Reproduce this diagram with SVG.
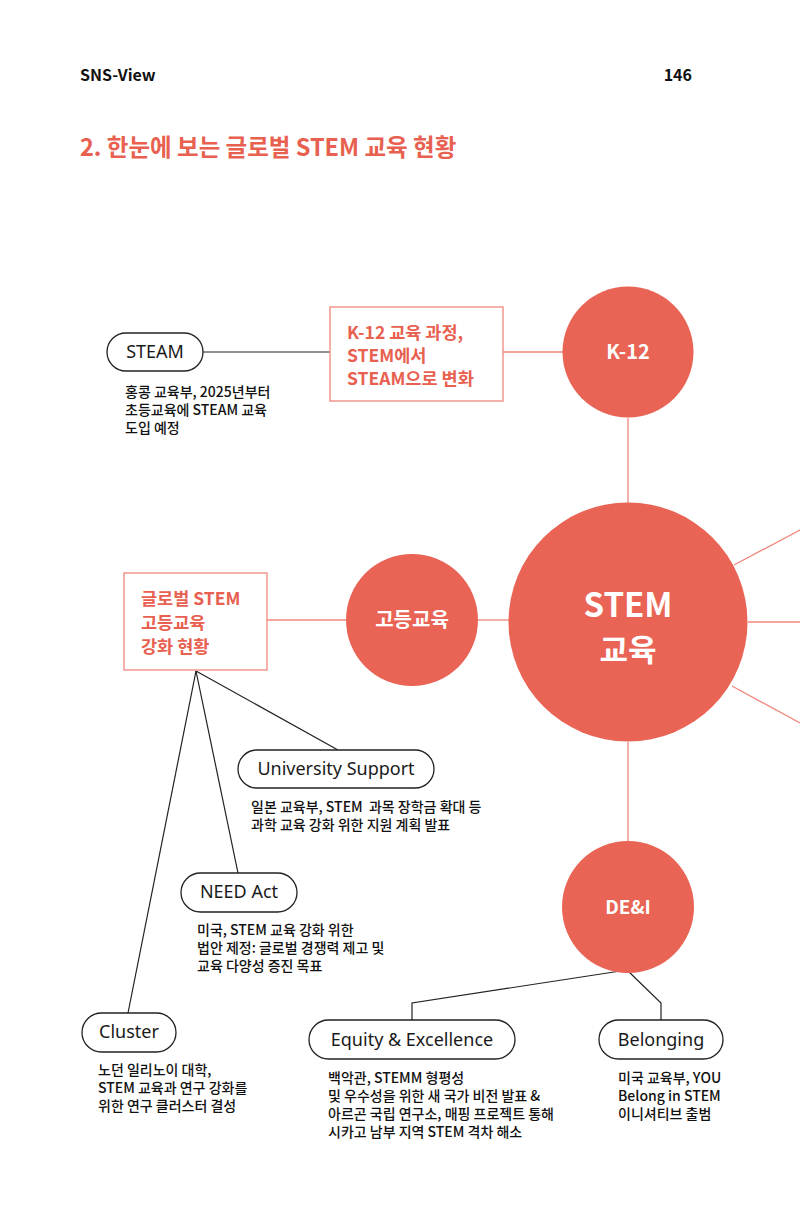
<svg xmlns="http://www.w3.org/2000/svg" width="800" height="1216" viewBox="0 0 800 1216">
<style>
.bg{fill:#ffffff}
.hub{fill:#E96455}
.box{fill:#ffffff;stroke:#F0877B;stroke-width:1.3}
.pill{fill:#ffffff;stroke:#222222;stroke-width:1.3}
.rl{stroke:#F0877B;stroke-width:1.3;fill:none}
.bl{stroke:#222222;stroke-width:1.2;fill:none}
.hubt{font-family:"Noto Sans CJK KR","Noto Sans",sans-serif;font-weight:bold;fill:#ffffff;text-anchor:middle}
.boxt{font-family:"Noto Sans CJK KR","Noto Sans",sans-serif;font-weight:bold;fill:#E8604F;font-size:17.5px}
.pillt{font-family:"Noto Sans","Noto Sans CJK KR",sans-serif;fill:#1a1a1a;font-size:18px;text-anchor:middle}
.desc{font-family:"Noto Sans CJK KR","Noto Sans",sans-serif;font-weight:500;fill:#111111;font-size:14px;white-space:pre}
.hdr{font-family:"Noto Sans CJK KR","Noto Sans",sans-serif;font-weight:bold;fill:#111111;font-size:16px}
.title{font-family:"Noto Sans CJK KR","Noto Sans",sans-serif;font-weight:bold;fill:#E8604F;font-size:23.5px}
</style>
<rect class="bg" x="0" y="0" width="800" height="1216"/>
<g id="header">
<text class="hdr" x="80" y="81">SNS-View</text>
<text class="hdr" x="692" y="81" text-anchor="end">146</text>
<text class="title" x="80" y="156">2. 한눈에 보는 글로벌 STEM 교육 현황</text>
</g>
<g id="connectors">
<line class="rl" x1="628" y1="418" x2="628" y2="503"/>
<line class="rl" x1="628" y1="742" x2="628" y2="841"/>
<line class="rl" x1="734" y1="565" x2="800" y2="530"/>
<line class="rl" x1="748" y1="622" x2="800" y2="622"/>
<line class="rl" x1="732" y1="686" x2="800" y2="723"/>
<line class="rl" x1="503" y1="352" x2="563" y2="352"/>
<line class="rl" x1="267" y1="620" x2="346" y2="620"/>
<line class="rl" x1="478" y1="620" x2="509" y2="620"/>
<line class="bl" x1="203" y1="352" x2="330" y2="352"/>
<line class="bl" x1="196" y1="671" x2="338" y2="750"/>
<line class="bl" x1="196" y1="671" x2="238" y2="873"/>
<line class="bl" x1="196" y1="671" x2="128" y2="1013"/>
<polyline class="bl" points="627,970 412,1003 412,1020"/>
<polyline class="bl" points="627,970 661,1003 661,1020"/>
</g>
<g id="stem">
<circle class="hub" cx="628" cy="622" r="119.5"/>
<text class="hubt" x="628" y="617" font-size="33">STEM</text>
<text class="hubt" x="628" y="661" font-size="31">교육</text>
</g>
<g id="k12">
<circle class="hub" cx="628" cy="352" r="65.5"/>
<text class="hubt" x="628" y="359" font-size="20">K-12</text>
</g>
<g id="higher-ed">
<circle class="hub" cx="412" cy="620" r="66"/>
<text class="hubt" x="412" y="627" font-size="20">고등교육</text>
</g>
<g id="dei">
<circle class="hub" cx="628" cy="907" r="66"/>
<text class="hubt" x="628" y="914" font-size="19">DE&amp;I</text>
</g>
<g id="k12-box">
<rect class="box" x="330" y="307" width="173" height="94"/>
<text class="boxt" x="347" y="339">K-12 교육 과정,</text>
<text class="boxt" x="347" y="362">STEM에서</text>
<text class="boxt" x="347" y="385">STEAM으로 변화</text>
</g>
<g id="higher-box">
<rect class="box" x="124" y="573" width="143" height="97"/>
<text class="boxt" x="141" y="605">글로벌 STEM</text>
<text class="boxt" x="141" y="629">고등교육</text>
<text class="boxt" x="141" y="653">강화 현황</text>
</g>
<g id="steam">
<rect class="pill" x="107" y="333" width="96" height="38" rx="19"/>
<text class="pillt" x="155" y="358">STEAM</text>
<text class="desc" x="125" y="397">홍콩 교육부, 2025년부터</text>
<text class="desc" x="125" y="415">초등교육에 STEAM 교육</text>
<text class="desc" x="125" y="433">도입 예정</text>
</g>
<g id="university-support">
<rect class="pill" x="238" y="750" width="196" height="38" rx="19"/>
<text class="pillt" x="336" y="775">University Support</text>
<text class="desc" x="251" y="812">일본 교육부, STEM  과목 장학금 확대 등</text>
<text class="desc" x="251" y="830">과학 교육 강화 위한 지원 계획 발표</text>
</g>
<g id="need-act">
<rect class="pill" x="181" y="873" width="116" height="39" rx="19.5"/>
<text class="pillt" x="239" y="898">NEED Act</text>
<text class="desc" x="197" y="935">미국, STEM 교육 강화 위한</text>
<text class="desc" x="197" y="953">법안 제정: 글로벌 경쟁력 제고 및</text>
<text class="desc" x="197" y="971">교육 다양성 증진 목표</text>
</g>
<g id="cluster">
<rect class="pill" x="82" y="1013" width="94" height="39" rx="19.5"/>
<text class="pillt" x="129" y="1038">Cluster</text>
<text class="desc" x="98" y="1075">노던 일리노이 대학,</text>
<text class="desc" x="98" y="1093">STEM 교육과 연구 강화를</text>
<text class="desc" x="98" y="1111">위한 연구 클러스터 결성</text>
</g>
<g id="equity">
<rect class="pill" x="309" y="1020" width="206" height="39" rx="19.5"/>
<text class="pillt" x="412" y="1046">Equity &amp; Excellence</text>
<text class="desc" x="328" y="1083">백악관, STEMM 형평성</text>
<text class="desc" x="328" y="1101">및 우수성을 위한 새 국가 비전 발표 &amp;</text>
<text class="desc" x="328" y="1119">아르곤 국립 연구소, 매핑 프로젝트 통해</text>
<text class="desc" x="328" y="1137">시카고 남부 지역 STEM 격차 해소</text>
</g>
<g id="belonging">
<rect class="pill" x="599" y="1020" width="124" height="39" rx="19.5"/>
<text class="pillt" x="661" y="1046">Belonging</text>
<text class="desc" x="618" y="1083">미국 교육부, YOU</text>
<text class="desc" x="618" y="1101">Belong in STEM</text>
<text class="desc" x="618" y="1119">이니셔티브 출범</text>
</g>
</svg>
